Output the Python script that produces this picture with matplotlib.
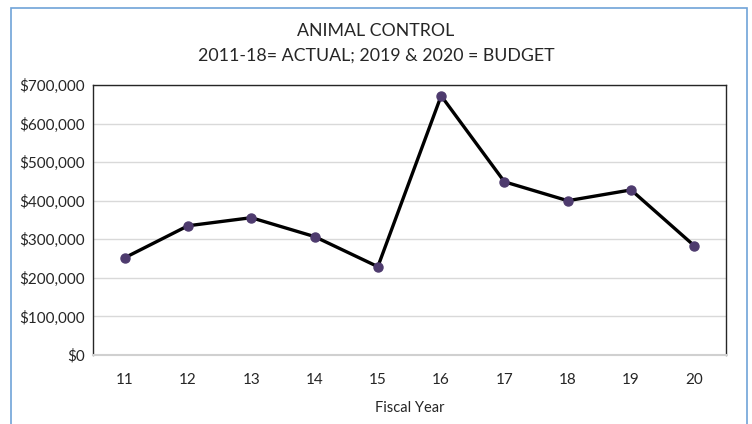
import matplotlib.pyplot as plt
from matplotlib.patches import Rectangle
from matplotlib.ticker import FuncFormatter

# data
years = ["11", "12", "13", "14", "15", "16", "17", "18", "19", "20"]
spending = [252000, 335000, 356000, 307000, 229000, 672000, 449000, 400000, 428000, 283000]

plt.rcParams['font.family'] = ['Lato', 'DejaVu Sans']

fig = plt.figure(figsize=(7.52, 4.24), dpi=100)
ax = fig.add_axes([93 / 752, 1 - 355 / 424, (726 - 93) / 752, (355 - 85) / 424])

# outer chart border
fig.patches.append(Rectangle((11 / 752, -0.05), (747 - 11) / 752, 1.05 - 8 / 424,
                             transform=fig.transFigure, fill=False,
                             edgecolor='#6fa3d8', linewidth=1.2))

x = range(len(years))
ax.plot(x, spending, color='black', linewidth=2.4, zorder=3)
ax.plot(x, spending, 'o', color='#4e3b6e', markersize=6.5, zorder=4)

ax.set_xlim(-0.5, len(years) - 0.5)
ax.set_ylim(0, 700000)
ax.set_yticks(range(0, 700001, 100000))
ax.yaxis.set_major_formatter(FuncFormatter(lambda v, p: '${:,.0f}'.format(v)))
ax.set_xticks(list(x))
ax.set_xticklabels(years)
ax.grid(axis='y', color='#d9d9d9', linewidth=1)
ax.set_axisbelow(True)
ax.tick_params(length=0, labelsize=11, colors='#262626')
ax.tick_params(axis='x', pad=13)
ax.tick_params(axis='y', pad=6)

for s in ['top', 'left', 'right']:
    ax.spines[s].set_color('#262626')
    ax.spines[s].set_linewidth(1)
ax.spines['bottom'].set_color('#d0d0d0')
ax.spines['bottom'].set_linewidth(1.5)

ax.set_xlabel('Fiscal Year', fontsize=10.5, color='#262626', labelpad=10)

fig.text(376 / 752, 1 - 31 / 424, 'ANIMAL CONTROL', ha='center', va='center',
         fontsize=12.8, color='#262626')
fig.text(376 / 752, 1 - 56 / 424, '2011-18= ACTUAL; 2019 & 2020 = BUDGET', ha='center',
         va='center', fontsize=12.8, color='#262626')

fig.savefig('out.png', dpi=100)
